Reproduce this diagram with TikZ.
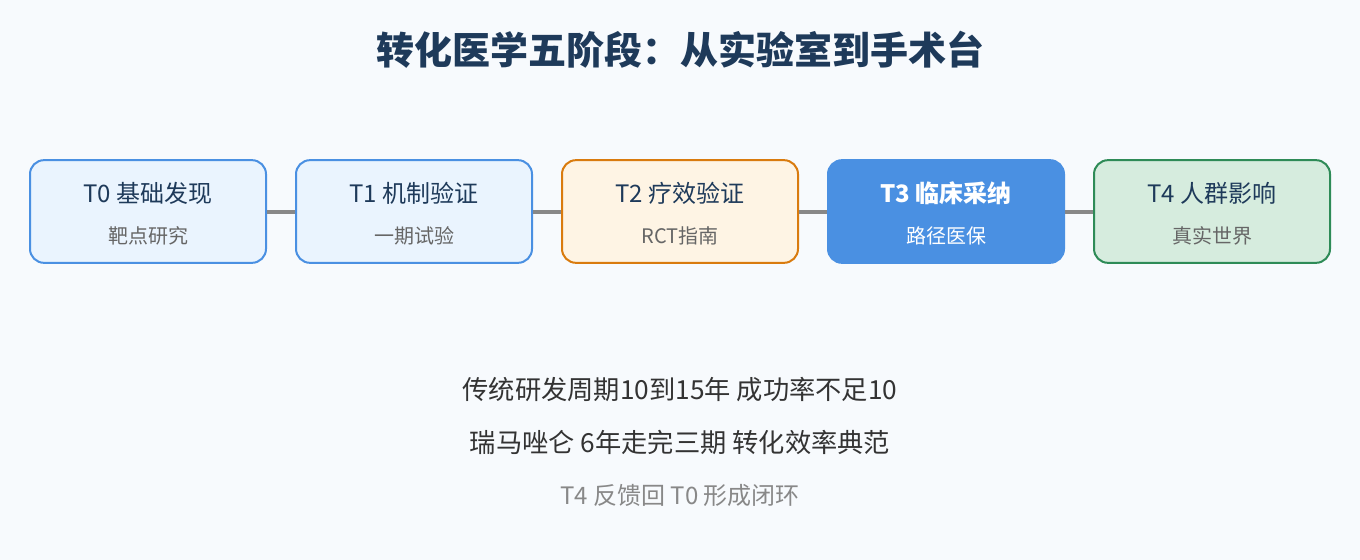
\documentclass[tikz,border=0pt]{standalone}
\usepackage{fontspec}
\setmainfont{Noto Sans CJK SC}
\definecolor{bg}{HTML}{F7FAFD}
\definecolor{navy}{HTML}{1E3A5A}
\definecolor{blueB}{HTML}{4A90E2}
\definecolor{blueF}{HTML}{EAF4FE}
\definecolor{orangeB}{HTML}{D97B0E}
\definecolor{orangeF}{HTML}{FEF4E4}
\definecolor{greenB}{HTML}{2E8B57}
\definecolor{greenF}{HTML}{D6ECDE}
\definecolor{subgray}{HTML}{666666}
\definecolor{linegray}{HTML}{888888}
\definecolor{textdark}{HTML}{333333}
\tikzset{
  stage/.style={draw, line width=1.5pt, rounded corners=10.5pt, minimum width=177pt, minimum height=77pt, inner sep=0pt},
  sblue/.style={stage, draw=blueB, fill=blueF},
  sorange/.style={stage, draw=orangeB, fill=orangeF},
  sdark/.style={stage, draw=blueB, fill=blueB},
  sgreen/.style={stage, draw=greenB, fill=greenF},
  ttl/.style={font=\fontsize{18pt}{20pt}\selectfont, text=navy},
  ttlw/.style={font=\fontsize{18pt}{20pt}\selectfont\bfseries, text=white},
  sub/.style={font=\fontsize{15pt}{16pt}\selectfont, text=subgray},
  subw/.style={font=\fontsize{15pt}{16pt}\selectfont, text=white},
  conn/.style={draw=linegray, line width=3pt},
  note/.style={font=\fontsize{19.7pt}{22pt}\selectfont, text=textdark},
  notel/.style={font=\fontsize{18pt}{20pt}\selectfont, text=linegray},
}
\begin{document}
\begin{tikzpicture}[x=0.75pt,y=-0.75pt]
\fill[bg] (0,0) rectangle (1360,560);
\useasboundingbox (0,0) rectangle (1360,560);
\node[font=\fontsize{28.5pt}{32pt}\selectfont\bfseries, text=navy] (title) at (680,50) {转化医学五阶段：从实验室到手术台};

\node[sblue] (b0) at (148,211.5) {};
\node[sblue] (b1) at (414,211.5) {};
\node[sorange] (b2) at (680,211.5) {};
\node[sdark] (b3) at (946,211.5) {};
\node[sgreen] (b4) at (1212,211.5) {};

\draw[conn] (b0.east) -- (b1.west);
\draw[conn] (b1.east) -- (b2.west);
\draw[conn] (b2.east) -- (b3.west);
\draw[conn] (b3.east) -- (b4.west);

\node[ttl] (t0) at (148,193) {T0 基础发现};
\node[sub] (s0) at (148,236) {靶点研究};
\node[ttl] (t1) at (414,193) {T1 机制验证};
\node[sub] (s1) at (414,236) {一期试验};
\node[ttl] (t2) at (680,193) {T2 疗效验证};
\node[sub] (s2) at (680,236) {RCT指南};
\node[ttlw] (t3) at (946,193) {T3 临床采纳};
\node[subw] (s3) at (946,236) {路径医保};
\node[ttl] (t4) at (1212,193) {T4 人群影响};
\node[sub] (s4) at (1212,236) {真实世界};

\node[note] (n1) at (680,390) {传统研发周期10到15年 成功率不足10};
\node[note] (n2) at (680,442) {瑞马唑仑 6年走完三期 转化效率典范};
\node[notel] (n3) at (680,495) {T4 反馈回 T0 形成闭环};
\end{tikzpicture}
\end{document}
